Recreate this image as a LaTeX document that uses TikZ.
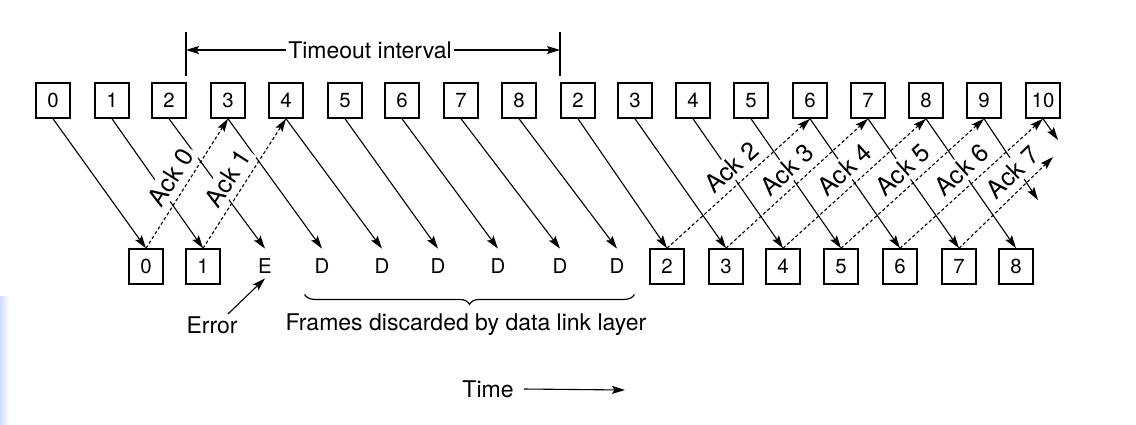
\documentclass[tikz,border=0pt]{standalone}
\usepackage{fontspec}
\setmainfont{TeX Gyre Heros}
\usetikzlibrary{arrows.meta, decorations.pathreplacing}

\begin{document}
\begin{tikzpicture}[
    x=0.5pt, y=-0.5pt,
    box/.style={draw, rectangle, line width=0.75pt, minimum width=17pt, minimum height=17.5pt, inner sep=0pt, font=\fontsize{10.2}{12}\selectfont},
    slot/.style={rectangle, minimum width=17pt, minimum height=17.5pt, inner sep=0pt, font=\fontsize{10.2}{12}\selectfont},
    lbl/.style={font=\fontsize{11.5}{14}\selectfont, inner sep=1pt},
    acklbl/.style={sloped, above=2pt, fill=white, inner sep=1.5pt, font=\fontsize{12.5}{15}\selectfont},
    arr/.style={-{Stealth[length=6.5pt, width=4pt, inset=1.2pt]}, line width=0.55pt},
    ackarr/.style={arr, dash pattern=on 1.6pt off 1.2pt},
    bar/.style={line width=0.6pt}
]
    \useasboundingbox (0,0) rectangle (1136,424);
    \shade[left color={rgb,255:red,208;green,222;blue,250}, right color=white] (0,296) rectangle (9,424);

    \foreach \x/\n [count=\i from 0] in {53/0,112/1,169/2,228/3,286/4,345/5,402/6,461/7,519/8,578/2,635/3,693/4,751/5,810/6,868/7,926/8,984/9,1043/10}
        \node[box] (t\i) at (\x,100.5) {\n};
    \foreach \x/\n/\s [count=\i from 0] in {146/0/box,203/1/box,265/E/slot,322/D/slot,382/D/slot,438/D/slot,498/D/slot,560/D/slot,617/D/slot,667/2/box,726/3/box,783/4/box,841/5/box,900/6/box,959/7/box,1016/8/box}
        \node[\s] (b\i) at (\x,266.5) {\n};

    \coordinate (cut9) at (1038,200);
    \coordinate (cut10) at (1058,140);
    \coordinate (cut7) at (1053,157);

    \foreach \i in {0,...,15}
        \draw[arr] (t\i.south) -- (b\i.north);
    \draw[arr] (t16.south) -- (cut9);
    \draw[arr] (t17.south) -- (cut10);

    \foreach \j/\k/\a/\p in {0/3/0/0.48,1/4/1/0.47,9/13/2/0.53,10/14/3/0.51,11/15/4/0.51,12/16/5/0.51,13/17/6/0.51}
        \draw[ackarr] (b\j.north) -- node[acklbl, pos=\p] {Ack \a} (t\k.south);
    \draw[ackarr] (b14.north) -- node[acklbl, pos=0.7] {Ack 7} (cut7);

    \node[lbl] (tout) at (370,50) {Timeout interval};
    \coordinate (tl) at (186,50);
    \coordinate (tr) at (560,50);
    \draw[arr] (tout.west) -- (tl);
    \draw[arr] (tout.east) -- (tr);
    \draw[bar] (tl) ++(0,-18) -- ++(0,44);
    \draw[bar] (tr) ++(0,-18) -- ++(0,44);

    \node[lbl] (err) at (212,325) {Error};
    \draw[arr] ([xshift=-6pt]err.north east) -- ([yshift=3pt]b2.south);

    \draw[bar, decorate, decoration={brace, mirror, amplitude=5pt, raise=5pt}] (b3.south west) -- (b8.south east);
    \node[lbl] (disc) at (466,325) {Frames discarded by data link layer};

    \node[lbl] (time) at (488,389) {Time};
    \coordinate (tend) at (625,390);
    \draw[arr] ([xshift=4pt]time.east) -- (tend);
\end{tikzpicture}
\end{document}
